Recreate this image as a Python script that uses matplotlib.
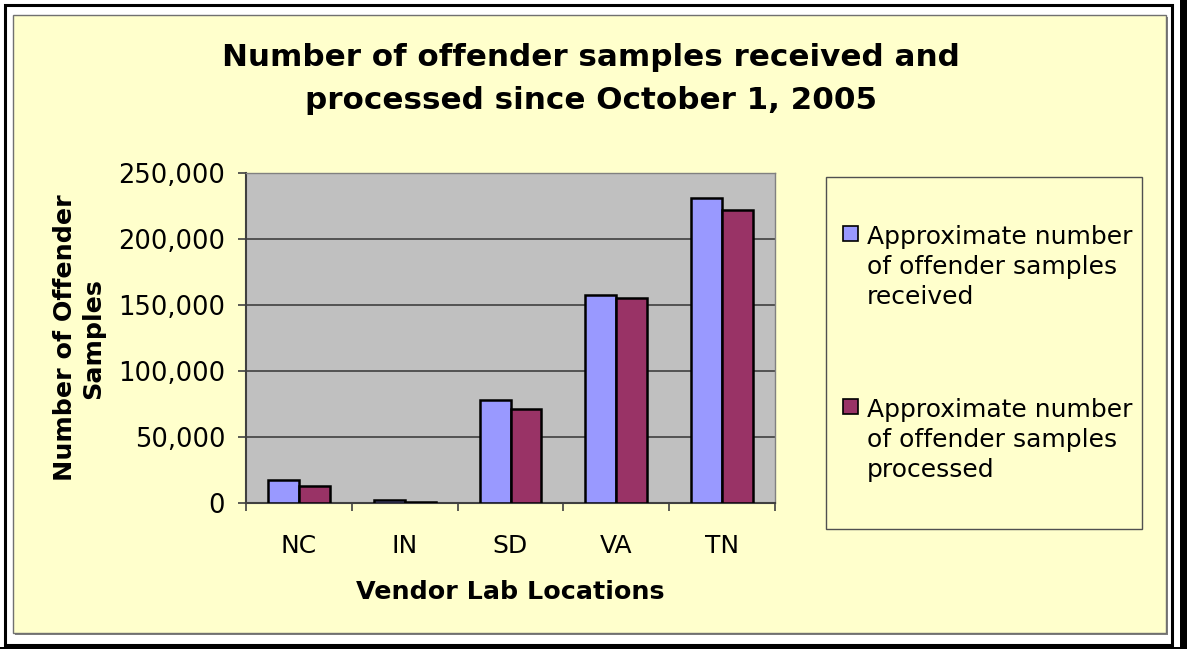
import matplotlib
matplotlib.use('Agg')
import matplotlib.pyplot as plt
from matplotlib.patches import Rectangle
from matplotlib.ticker import FuncFormatter

# Vendor labs and approximate sample counts
labs = ['NC', 'IN', 'SD', 'VA', 'TN']
received = [17400, 2300, 78300, 157500, 231200]
processed = [13100, 1200, 71200, 155500, 222000]
series_names = ['Approximate number\nof offender samples\nreceived',
                'Approximate number\nof offender samples\nprocessed']
y_ticks = [0, 50000, 100000, 150000, 200000, 250000]

W, H = 1187, 649
fig = plt.figure(figsize=(W / 100, H / 100), dpi=100)
fig.patch.set_facecolor('white')


def box(x0, y0, x1, y1, **kw):
    # rectangle given in pixel coords from the top-left corner
    r = Rectangle((x0 / W, 1 - y1 / H), (x1 - x0) / W, (y1 - y0) / H,
                  transform=fig.transFigure, **kw)
    fig.add_artist(r)
    return r


# outer frame
box(5, 5, 1172, 645, facecolor='none', edgecolor='black', lw=2.2, zorder=-5)
box(1180, 0, 1187, 649, facecolor='black', edgecolor='none', zorder=-5)
box(0, 647, 1187, 649, facecolor='black', edgecolor='none', zorder=-5)

# chart area with shadow
box(15, 17, 1168, 635, facecolor='#808080', edgecolor='none', zorder=-4)
box(13, 15, 1166, 633, facecolor='#FFFFCC', edgecolor='#707070', lw=1.0, zorder=-3)

ax = fig.add_axes([246 / W, 1 - 503.3 / H, 529 / W, 330.3 / H])
ax.set_facecolor('#C0C0C0')

w = 0.293
xs = [i + 0.5 for i in range(len(labs))]
ax.bar([x - w / 2 for x in xs], received, width=w, color='#9999FF',
       edgecolor='black', linewidth=1.8, zorder=3)
ax.bar([x + w / 2 for x in xs], processed, width=w, color='#993366',
       edgecolor='black', linewidth=1.8, zorder=3)

ax.set_xlim(0, len(labs))
ax.set_ylim(0, 250000)
ax.set_yticks(y_ticks)
ax.yaxis.set_major_formatter(FuncFormatter(lambda v, p: f'{int(v):,}'))
ax.yaxis.grid(True, color='#404040', lw=1.2, zorder=1)

ax.set_xticks(range(len(labs) + 1))
ax.set_xticklabels([])
ax.set_xticks(xs, minor=True)
ax.set_xticklabels(labs, minor=True)
ax.tick_params(axis='x', which='minor', length=0, pad=22, labelsize=18)
ax.tick_params(axis='x', which='major', length=6, width=1.2, color='#404040')
ax.tick_params(axis='y', length=6, width=1.2, color='#404040', labelsize=18.5, pad=9)

for s in ['top', 'right']:
    ax.spines[s].set_color('#808080')
    ax.spines[s].set_linewidth(1.0)
for s in ['left', 'bottom']:
    ax.spines[s].set_color('#404040')
    ax.spines[s].set_linewidth(1.5)

ax.set_xlabel('Vendor Lab Locations', fontsize=18.3, fontweight='bold', labelpad=16)
ax.set_ylabel('Number of Offender\nSamples', fontsize=18.3, fontweight='bold',
              labelpad=9, linespacing=1.25)

fig.text(591 / W, 1 - 79 / H,
         'Number of offender samples received and\nprocessed since October 1, 2005',
         ha='center', va='center', fontsize=22.3, fontweight='bold', linespacing=1.62)

# legend box
box(826, 177, 1142, 529, facecolor='#FFFFCC', edgecolor='#505050', lw=1.0)
for name, col, yc in zip(series_names, ['#9999FF', '#993366'], [267, 440]):
    box(843, yc - 41, 858, yc - 26, facecolor=col, edgecolor='black', lw=1.2)
    fig.text(867 / W, 1 - yc / H, name, ha='left', va='center', fontsize=18,
             linespacing=1.3)

fig.savefig('out.png', dpi=100, facecolor=fig.get_facecolor())
